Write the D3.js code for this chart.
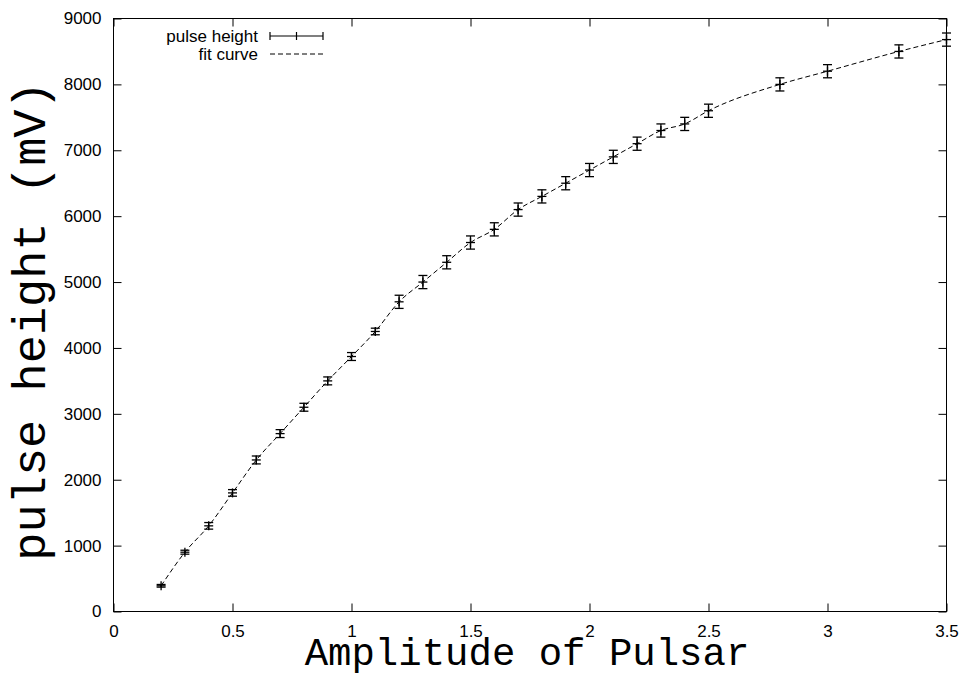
<!DOCTYPE html>
<html>
<head>
<meta charset="utf-8">
<title>pulse height vs amplitude</title>
<style>
  body { margin: 0; background: #fff; }
  svg { display: block; }
  .tick text { font-family: "Liberation Sans", Arial, sans-serif; font-size: 17px; fill: #000; }
  .tick line { stroke: #000; }
  .axis path { display: none; }
  .title { font-family: "Liberation Mono", "Courier New", monospace; fill: #000; }
  .legend text { font-family: "Liberation Sans", Arial, sans-serif; font-size: 17px; fill: #000; }
</style>
<script src="https://d3js.org/d3.v7.min.js"></script>
</head>
<body>
<svg id="chart" width="963" height="673"></svg>
<script>
// data
var amplitude   = [0.2, 0.3, 0.4, 0.5, 0.6, 0.7, 0.8, 0.9, 1.0, 1.1, 1.2, 1.3, 1.4, 1.5,
                   1.6, 1.7, 1.8, 1.9, 2.0, 2.1, 2.2, 2.3, 2.4, 2.5, 2.8, 3.0, 3.3, 3.5];
var pulseHeight = [390, 900, 1300, 1800, 2300, 2700, 3100, 3500, 3870, 4250, 4700, 5000, 5300, 5600,
                   5800, 6100, 6300, 6500, 6700, 6900, 7100, 7300, 7400, 7600, 8000, 8200, 8500, 8680];
var errorBar    = [20, 30, 50, 50, 60, 60, 60, 60, 60, 50, 100, 100, 100, 100,
                   100, 100, 100, 100, 100, 100, 100, 100, 100, 100, 100, 100, 100, 100];
var xTicks = [0, 0.5, 1, 1.5, 2, 2.5, 3, 3.5];
var yTicks = [0, 1000, 2000, 3000, 4000, 5000, 6000, 7000, 8000, 9000];

var pLeft = 113.5, pRight = 946.5, pTop = 18.5, pBottom = 611.5;
var tickLen = 8, cap = 4.5;

var svg = d3.select("#chart");

var x = d3.scaleLinear().domain([0, 3.5]).range([pLeft, pRight]);
var y = d3.scaleLinear().domain([0, 9000]).range([pBottom, pTop]);

// axes (ticks inward, mirrored on all sides)
svg.append("g").attr("class", "axis").attr("transform", "translate(0," + pBottom + ")")
  .call(d3.axisBottom(x).tickValues(xTicks).tickSize(-tickLen).tickPadding(13)
        .tickFormat(function(d){ return d; }));
svg.append("g").attr("class", "axis").attr("transform", "translate(0," + pTop + ")")
  .call(d3.axisTop(x).tickValues(xTicks).tickSize(-tickLen).tickFormat(""));
svg.append("g").attr("class", "axis").attr("transform", "translate(" + pLeft + ",0)")
  .call(d3.axisLeft(y).tickValues(yTicks).tickSize(-tickLen).tickPadding(12)
        .tickFormat(d3.format("d")));
svg.append("g").attr("class", "axis").attr("transform", "translate(" + pRight + ",0)")
  .call(d3.axisRight(y).tickValues(yTicks).tickSize(-tickLen).tickFormat(""));

// frame
svg.append("rect")
  .attr("x", pLeft).attr("y", pTop)
  .attr("width", pRight - pLeft).attr("height", pBottom - pTop)
  .attr("fill", "none").attr("stroke", "#000").attr("stroke-width", 1);

// fit curve
var pts = amplitude.map(function(a, i){ return [a, pulseHeight[i]]; });
var line = d3.line()
  .x(function(d){ return x(d[0]); })
  .y(function(d){ return y(d[1]); })
  .curve(d3.curveMonotoneX);
svg.append("path")
  .datum(pts)
  .attr("d", line)
  .attr("fill", "none")
  .attr("stroke", "#000")
  .attr("stroke-width", 1)
  .attr("stroke-dasharray", "5,3");

// error bars + points
var eb = svg.append("g").attr("stroke", "#000").attr("stroke-width", 1.3);
amplitude.forEach(function(a, i){
  var cx = x(a), cy = y(pulseHeight[i]);
  var y0 = y(pulseHeight[i] - errorBar[i]), y1 = y(pulseHeight[i] + errorBar[i]);
  eb.append("line").attr("x1", cx).attr("x2", cx).attr("y1", y0).attr("y2", y1);
  eb.append("line").attr("x1", cx - cap).attr("x2", cx + cap).attr("y1", y0).attr("y2", y0);
  eb.append("line").attr("x1", cx - cap).attr("x2", cx + cap).attr("y1", y1).attr("y2", y1);
  // plus marker
  eb.append("line").attr("x1", cx - cap).attr("x2", cx + cap).attr("y1", cy).attr("y2", cy);
  eb.append("line").attr("x1", cx).attr("x2", cx).attr("y1", cy - cap).attr("y2", cy + cap);
});

// legend
var lg = svg.append("g").attr("class", "legend");
lg.append("text").attr("x", 258).attr("y", 42).attr("text-anchor", "end").text("pulse height");
lg.append("text").attr("x", 258).attr("y", 60).attr("text-anchor", "end").text("fit curve");
var lgl = lg.append("g").attr("stroke", "#000").attr("stroke-width", 1.2);
lgl.append("line").attr("x1", 270).attr("x2", 323).attr("y1", 36).attr("y2", 36);
lgl.append("line").attr("x1", 270).attr("x2", 270).attr("y1", 32).attr("y2", 40);
lgl.append("line").attr("x1", 323).attr("x2", 323).attr("y1", 32).attr("y2", 40);
lgl.append("line").attr("x1", 296.5).attr("x2", 296.5).attr("y1", 32).attr("y2", 40);
lg.append("line").attr("x1", 270).attr("x2", 323).attr("y1", 54).attr("y2", 54)
  .attr("stroke", "#000").attr("stroke-width", 1).attr("stroke-dasharray", "5,3");

// axis titles
svg.append("text").attr("class", "title")
  .attr("x", 527).attr("y", 665)
  .attr("text-anchor", "middle")
  .style("font-size", "39px")
  .text("Amplitude of Pulsar");
svg.append("text").attr("class", "title")
  .attr("transform", "translate(45,321) rotate(-90)")
  .attr("text-anchor", "middle")
  .style("font-size", "47px")
  .text("pulse height (mV)");
</script>
</body>
</html>
